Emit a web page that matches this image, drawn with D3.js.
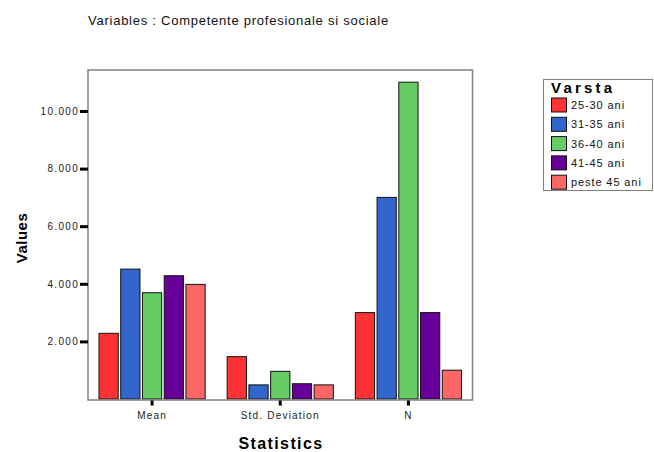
<!DOCTYPE html>
<html>
<head>
<meta charset="utf-8">
<script src="https://cdn.jsdelivr.net/npm/d3@7"></script>
<style>
  body { margin: 0; background: #fff; }
  text { font-family: "Liberation Sans", Arial, sans-serif; }
</style>
</head>
<body>
<div id="chart"></div>
<script>
// date din grafic
var categories = ['Mean', 'Std. Deviation', 'N'];
var groups = ['25-30 ani', '31-35 ani', '36-40 ani', '41-45 ani', 'peste 45 ani'];
var colors = ['#ff3333', '#3366cc', '#66cc66', '#660099', '#ff6666'];
var values = [
    [2.28, 1.47, 3],   // 25-30 ani
    [4.51, 0.49, 7],   // 31-35 ani
    [3.69, 0.96, 11],  // 36-40 ani
    [4.28, 0.53, 3],   // 41-45 ani
    [3.98, 0.49, 1]    // peste 45 ani
];
var yTicks = [2, 4, 6, 8, 10];

var W = 654, H = 452;
var plot = { left: 88, top: 70, right: 472.5, bottom: 400 };

var svg = d3.select('#chart').append('svg').attr('width', W).attr('height', H);

// titlu
svg.append('text').text('Variables : Competente profesionale si sociale')
    .attr('x', 88).attr('y', 25).attr('font-size', 13).attr('fill', '#111')
    .attr('letter-spacing', 0.75);

var x0 = d3.scaleBand().domain(categories).range([plot.left, plot.right]);
var x1 = d3.scaleBand().domain(groups).range([11, x0.bandwidth() - 11]).paddingInner(0.115);
var y = d3.scaleLinear().domain([0, (399 - plot.top) / 28.8]).range([399, plot.top]);

// bare
var g = svg.append('g');
categories.forEach(function (c, ci) {
    groups.forEach(function (s, si) {
        var v = values[si][ci];
        g.append('rect')
            .attr('x', x0(c) + x1(s))
            .attr('y', y(v))
            .attr('width', x1.bandwidth())
            .attr('height', y(0) - y(v))
            .attr('fill', colors[si])
            .attr('stroke', '#111')
            .attr('stroke-width', 1);
    });
});

// chenar
svg.append('rect')
    .attr('x', plot.left).attr('y', plot.top)
    .attr('width', plot.right - plot.left).attr('height', plot.bottom - plot.top)
    .attr('fill', 'none').attr('stroke', '#808080').attr('stroke-width', 1.5);

// axa Y
var yAxis = svg.append('g').attr('transform', 'translate(' + plot.left + ',0)')
    .call(d3.axisLeft(y).tickValues(yTicks).tickSize(8).tickPadding(1)
        .tickFormat(d3.format('.3f')));
yAxis.select('.domain').remove();
yAxis.selectAll('line').attr('stroke', '#000').attr('stroke-width', 3);
yAxis.selectAll('text').attr('font-size', 10).attr('fill', '#222')
    .attr('letter-spacing', 1.3)
    .attr('font-family', '"Liberation Sans", Arial, sans-serif');

// axa X
var xAxis = svg.append('g').attr('transform', 'translate(0,' + (plot.bottom + 0.5) + ')')
    .call(d3.axisBottom(x0).tickSize(5).tickPadding(6));
xAxis.select('.domain').remove();
xAxis.selectAll('line').attr('stroke', '#000').attr('stroke-width', 3);
xAxis.selectAll('text').attr('font-size', 10).attr('fill', '#222')
    .attr('letter-spacing', 1.2)
    .attr('font-family', '"Liberation Sans", Arial, sans-serif');

// titluri axe
svg.append('text').text('Values')
    .attr('transform', 'translate(27,238) rotate(-90)')
    .attr('text-anchor', 'middle').attr('font-size', 15).attr('font-weight', 'bold')
    .attr('letter-spacing', 0.5);
svg.append('text').text('Statistics')
    .attr('x', 281).attr('y', 449)
    .attr('text-anchor', 'middle').attr('font-size', 16).attr('font-weight', 'bold')
    .attr('letter-spacing', 1.4);

// legenda
var lg = svg.append('g');
lg.append('rect').attr('x', 543.5).attr('y', 79.5).attr('width', 109).attr('height', 111)
    .attr('fill', '#fff').attr('stroke', '#808080').attr('stroke-width', 1);
lg.append('text').text('Varsta').attr('x', 551).attr('y', 93)
    .attr('font-size', 15).attr('font-weight', 'bold').attr('letter-spacing', 3.2);
groups.forEach(function (s, i) {
    var cy = 105 + i * 19.3;
    lg.append('rect').attr('x', 551.5).attr('y', cy - 7).attr('width', 15).attr('height', 14)
        .attr('fill', colors[i]).attr('stroke', '#111').attr('stroke-width', 1);
    lg.append('text').text(s).attr('x', 571).attr('y', cy + 4)
        .attr('font-size', 11).attr('fill', '#111').attr('letter-spacing', 0.9);
});
</script>
</body>
</html>
